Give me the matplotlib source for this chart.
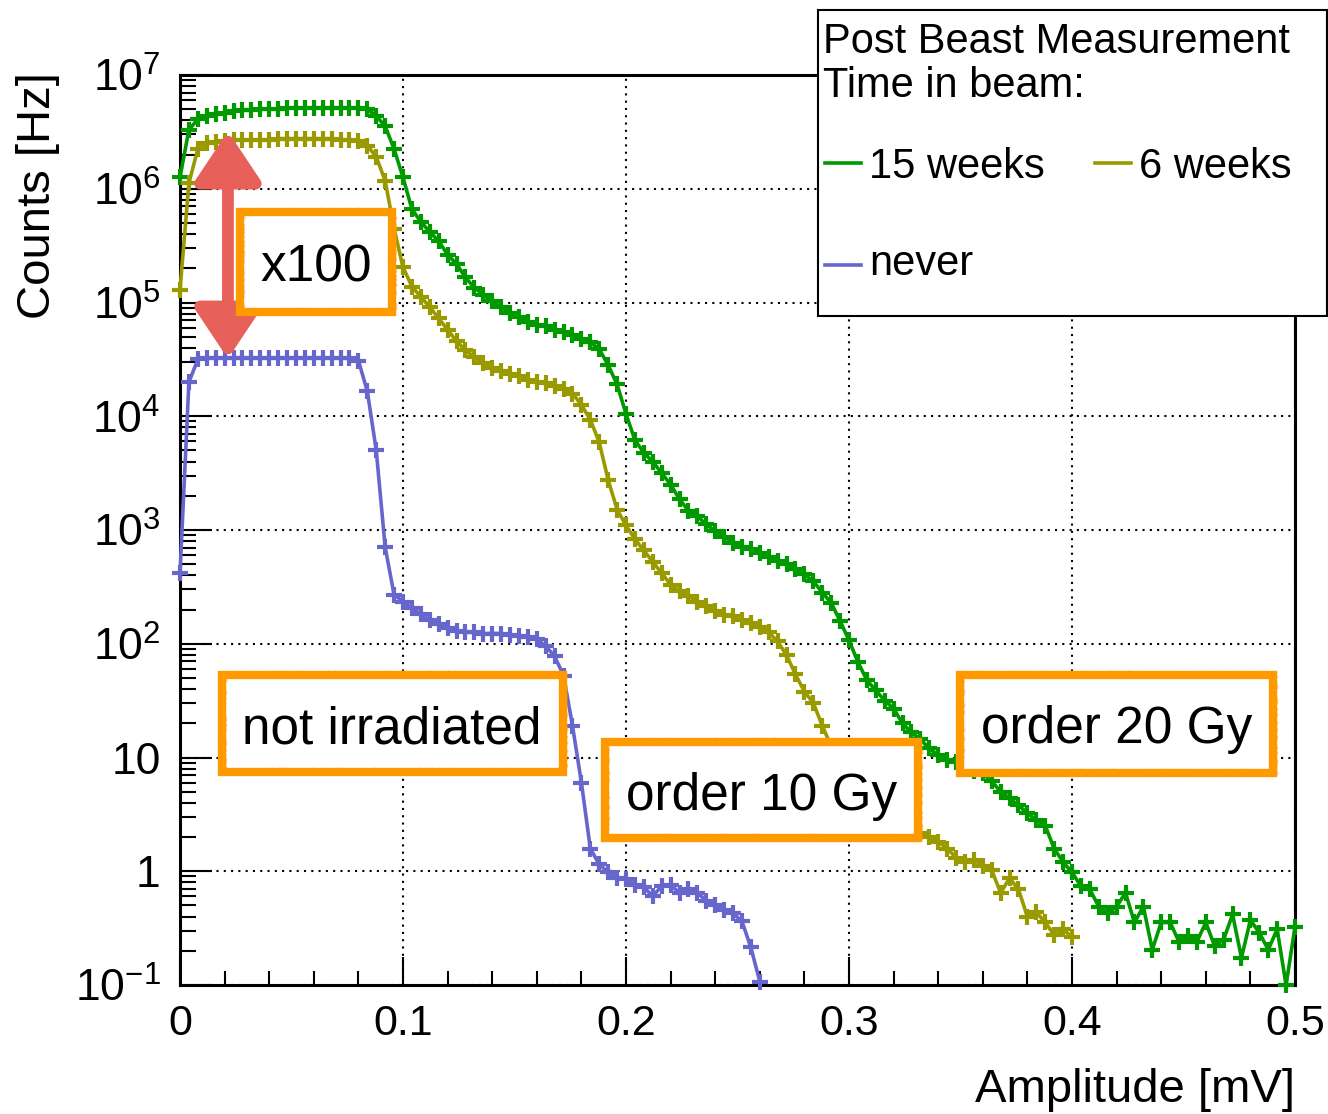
import matplotlib.pyplot as plt
import numpy as np
from matplotlib.patches import Rectangle
from matplotlib.lines import Line2D
from matplotlib.ticker import FixedLocator, FuncFormatter, NullFormatter

plt.rcParams['font.family'] = ['Liberation Sans', 'DejaVu Sans']
plt.rcParams['mathtext.fontset'] = 'custom'
plt.rcParams['mathtext.rm'] = 'Liberation Sans'
plt.rcParams['mathtext.it'] = 'Liberation Sans:italic'

# amplitude bins (mV) and log10 of the count rate (Hz) in each bin
bin_width = 0.004

green_log = [6.10, 6.52, 6.61, 6.64, 6.66, 6.67, 6.68, 6.69, 6.69, 6.70,
             6.70, 6.70, 6.71, 6.71, 6.71, 6.71, 6.71, 6.71, 6.71, 6.71,
             6.71, 6.70, 6.64, 6.55, 6.35, 6.10, 5.82, 5.71, 5.62, 5.54,
             5.42, 5.34, 5.22, 5.13, 5.07, 5.01, 4.96, 4.91, 4.87, 4.83,
             4.80, 4.79, 4.76, 4.74, 4.71, 4.68, 4.65, 4.59, 4.45, 4.28,
             4.02, 3.79, 3.68, 3.60, 3.50, 3.40, 3.27, 3.17, 3.12, 3.05,
             2.99, 2.94, 2.89, 2.85, 2.83, 2.80, 2.76, 2.73, 2.70, 2.66,
             2.61, 2.55, 2.45, 2.36, 2.20, 2.03, 1.84, 1.68, 1.59, 1.50,
             1.43, 1.30, 1.22, 1.16, 1.08, 1.02, 0.98, 0.96, 0.91, 0.88,
             0.86, 0.79, 0.70, 0.64, 0.58, 0.51, 0.45, 0.40, 0.20, 0.08,
             -0.01, -0.13, -0.16, -0.31, -0.37, -0.31, -0.19, -0.45, -0.31, -0.69,
             -0.45, -0.45, -0.62, -0.57, -0.62, -0.45, -0.66, -0.60, -0.38, -0.76,
             -0.43, -0.54, -0.69, -0.51, -1.00, -0.49]

olive_log = [5.11, 6.05, 6.35, 6.40, 6.41, 6.42, 6.43, 6.43, 6.43, 6.43,
             6.43, 6.44, 6.44, 6.44, 6.44, 6.44, 6.44, 6.44, 6.43, 6.43,
             6.42, 6.38, 6.28, 6.07, 5.65, 5.31, 5.14, 5.05, 4.96, 4.86,
             4.76, 4.66, 4.58, 4.52, 4.47, 4.42, 4.40, 4.37, 4.35, 4.32,
             4.30, 4.29, 4.27, 4.24, 4.20, 4.10, 3.97, 3.77, 3.44, 3.18,
             3.04, 2.92, 2.82, 2.72, 2.62, 2.52, 2.46, 2.42, 2.37, 2.33,
             2.29, 2.25, 2.24, 2.21, 2.18, 2.15, 2.10, 2.02, 1.90, 1.73,
             1.58, 1.48, 1.28, 1.10, 0.98, 0.88, 0.78, 0.70, 0.62, 0.55,
             0.48, 0.42, 0.38, 0.34, 0.30, 0.26, 0.20, 0.12, 0.08, 0.10,
             0.05, 0.01, -0.19, -0.06, -0.16, -0.40, -0.36, -0.45, -0.56, -0.51,
             -0.58]

blue_log = [2.62, 4.30, 4.50, 4.51, 4.51, 4.51, 4.51, 4.51, 4.51, 4.51,
            4.51, 4.51, 4.51, 4.51, 4.51, 4.51, 4.51, 4.51, 4.51, 4.51,
            4.49, 4.22, 3.70, 2.85, 2.43, 2.37, 2.31, 2.26, 2.21, 2.17,
            2.14, 2.11, 2.10, 2.10, 2.09, 2.09, 2.09, 2.08, 2.07, 2.06,
            2.04, 1.98, 1.89, 1.72, 1.28, 0.78, 0.20, 0.06, -0.01, -0.06,
            -0.07, -0.12, -0.14, -0.22, -0.13, -0.12, -0.19, -0.16, -0.19, -0.26,
            -0.30, -0.34, -0.37, -0.44, -0.67, -0.97]

series = [('15 weeks', green_log, '#009900'),
          ('6 weeks', olive_log, '#999900'),
          ('never', blue_log, '#6666cc')]

x_ticks = [0, 0.1, 0.2, 0.3, 0.4, 0.5]
y_decades = list(range(-1, 8))

W, H = 1328, 1114


def fx(px):
    return px / W


def fy(py):
    return 1 - py / H


fig = plt.figure(figsize=(W / 100, H / 100), dpi=100)
ax = fig.add_axes([fx(180), fy(985), 1115 / W, 910 / H])

lines = {}
for name, vals, col in series:
    y = 10.0 ** np.array(vals)
    x = np.arange(len(y)) * bin_width
    ln, = ax.plot(x, y, color=col, lw=2.6, marker='+', ms=11, mew=3.0,
                  clip_on=False, zorder=3)
    lines[name] = ln

ax.set_yscale('log')
ax.set_xlim(0, 0.5)
ax.set_ylim(0.1, 1e7)

# ROOT-like axes: inward ticks, dotted grid on the major ticks
ax.xaxis.set_major_locator(FixedLocator(x_ticks))
ax.xaxis.set_minor_locator(FixedLocator([i * 0.02 for i in range(26)]))
ax.xaxis.set_major_formatter(FuncFormatter(lambda v, p: '%g' % round(v, 3)))
ax.yaxis.set_major_locator(FixedLocator([10.0 ** e for e in y_decades]))
ax.yaxis.set_minor_locator(FixedLocator([m * 10.0 ** e for e in y_decades[:-1]
                                         for m in range(2, 10)]))
ax.yaxis.set_minor_formatter(NullFormatter())


def ylab(v, p):
    e = int(round(np.log10(v)))
    if e == 0:
        return '1'
    if e == 1:
        return '10'
    return r'$\mathregular{10^{%d}}$' % e


ax.yaxis.set_major_formatter(FuncFormatter(ylab))
ax.tick_params(axis='both', which='both', direction='in', top=False,
               right=False, width=1.5, color='black')
ax.tick_params(axis='x', which='major', length=20, labelsize=31, pad=14)
ax.tick_params(axis='x', which='minor', length=10)
ax.tick_params(axis='y', which='major', length=23, labelsize=32, pad=14)
ax.tick_params(axis='y', which='minor', length=11.5)
for s in ax.spines.values():
    s.set_linewidth(2.2)
ax.grid(True, which='major', color='black', linestyle=(0, (1, 2.5)), linewidth=1.5)

fig.text(fx(38), fy(72), 'Counts [Hz]', rotation=90, ha='center', va='top', fontsize=34)
fig.text(fx(1295), fy(1090), 'Amplitude [mV]', ha='right', va='center', fontsize=34)

# double arrow marking the factor 100 between irradiated and fresh sample
ax.annotate('', xy=(0.0215, 3.2e6), xytext=(0.0215, 3.2e4),
            arrowprops=dict(arrowstyle='<|-|>,head_length=1.5,head_width=1.0',
                            mutation_scale=20, lw=8.5, color='#e8605a',
                            shrinkA=0, shrinkB=0), zorder=4)

# hand-drawn looking orange boxes
ORANGE = '#ff9900'
strokes = [(0, 0, 6.0, 1.0), (2, -2, 1.5, 0.6), (-2, 2, 1.2, 0.5), (3, 1, 1.0, 0.5)]


def note(x0, y0, x1, y1, label, cx, base):
    for dx, dy, lw, a in strokes:
        r = Rectangle((fx(x0 + dx), fy(y1 + dy)), (x1 - x0) / W, (y1 - y0) / H,
                      transform=fig.transFigure, facecolor='white' if lw > 5 else 'none',
                      edgecolor=ORANGE, lw=lw, alpha=a, zorder=5)
        if lw < 5:
            r.set_sketch_params(scale=1.2, length=15, randomness=10)
        fig.add_artist(r)
    fig.text(fx(cx), fy(base), label, ha='center', va='baseline', fontsize=37, zorder=6)


note(240, 212, 392, 312, 'x100', 316, 282)
note(222, 675, 563, 772, 'not irradiated', 392, 743)
note(605, 742, 918, 838, 'order 10 Gy', 762, 810)
note(960, 675, 1273, 773, 'order 20 Gy', 1117, 743)

# legend box
fig.add_artist(Rectangle((fx(818), fy(316)), (1327 - 818) / W, (316 - 10) / H,
                         transform=fig.transFigure, facecolor='white',
                         edgecolor='black', lw=1.5, zorder=7))
fig.text(fx(823), fy(53), 'Post Beast Measurement', fontsize=30, va='baseline', zorder=8)
fig.text(fx(823), fy(97), 'Time in beam:', fontsize=30, va='baseline', zorder=8)
entries = [('15 weeks', 825, 163, 178), ('6 weeks', 1095, 163, 178), ('never', 825, 265, 275)]
for name, px, ly, base in entries:
    fig.add_artist(Line2D([fx(px), fx(px + 36)], [fy(ly), fy(ly)], transform=fig.transFigure,
                          color=lines[name].get_color(), lw=2.6, zorder=8))
    fig.text(fx(px + 44), fy(base), name, fontsize=30, va='baseline', zorder=8)

fig.savefig('out.png', dpi=100)
